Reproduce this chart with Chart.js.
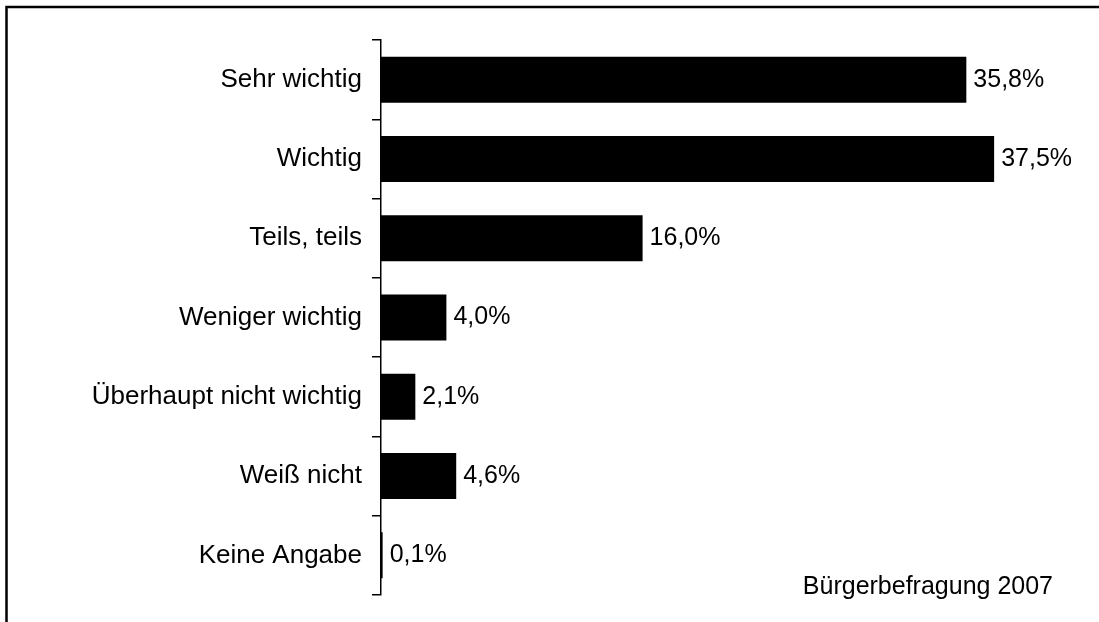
<!DOCTYPE html>
<html>
<head>
<meta charset="utf-8">
<script src="https://cdn.jsdelivr.net/npm/chart.js@4/dist/chart.umd.min.js"></script>
<style>
    html, body { margin: 0; padding: 0; background: #fff; }
    #wrap { width: 1099px; height: 622px; }
</style>
</head>
<body>
<div id="wrap"><canvas id="bar-chart" width="1099" height="622"></canvas></div>
<script>
var categories = ["Sehr wichtig", "Wichtig", "Teils, teils", "Weniger wichtig",
    "Überhaupt nicht wichtig", "Weiß nicht", "Keine Angabe"];
var shares = [35.8, 37.5, 16.0, 4.0, 2.1, 4.6, 0.1];
var sourceNote = "Bürgerbefragung 2007";

var fontFamily = "'Liberation Sans', Arial, sans-serif";

// frame around the whole picture (only left and top edges are visible)
var framePlugin = {
    id: "frame",
    beforeDraw: function(chart) {
        var ctx = chart.ctx;
        ctx.save();
        ctx.fillStyle = "#fff";
        ctx.fillRect(0, 0, chart.width, chart.height);
        ctx.strokeStyle = "#000";
        ctx.lineWidth = 2.5;
        ctx.beginPath();
        ctx.moveTo(6.5, chart.height + 5);
        ctx.lineTo(6.5, 7);
        ctx.lineTo(chart.width + 5, 7);
        ctx.stroke();
        ctx.restore();
    }
};

// value labels next to bars + source note
var labelPlugin = {
    id: "valueLabels",
    afterDatasetsDraw: function(chart) {
        var ctx = chart.ctx;
        var meta = chart.getDatasetMeta(0);
        ctx.save();
        ctx.font = "25px " + fontFamily;
        ctx.fillStyle = "#000";
        ctx.textAlign = "left";
        ctx.textBaseline = "middle";
        meta.data.forEach(function(bar, i) {
            var txt = shares[i].toFixed(1).replace(".", ",") + "%";
            ctx.fillText(txt, bar.x + 7, bar.y);
        });
        var area = chart.chartArea;
        ctx.textBaseline = "alphabetic";
        ctx.fillText(sourceNote, chart.scales.x.getPixelForValue(25.8), area.bottom - 1);
        ctx.restore();
    }
};

new Chart(document.getElementById("bar-chart"), {
    type: "bar",
    data: {
        labels: categories,
        datasets: [{
            data: shares,
            backgroundColor: "#000",
            borderWidth: 0,
            categoryPercentage: 1.0,
            barPercentage: 0.58
        }]
    },
    options: {
        indexAxis: "y",
        responsive: false,
        animation: false,
        layout: {
            padding: { top: 40, bottom: 27, left: 0, right: 64 }
        },
        plugins: {
            legend: { display: false },
            tooltip: { enabled: false }
        },
        scales: {
            x: {
                display: false,
                min: 0,
                max: 40
            },
            y: {
                afterFit: function(scale) { scale.width = 381; },
                border: { display: true, color: "#000", width: 1.5 },
                grid: {
                    offset: true,
                    drawOnChartArea: false,
                    drawTicks: true,
                    tickLength: 9,
                    color: "#000",
                    lineWidth: 1.5
                },
                ticks: {
                    color: "#000",
                    padding: 10,
                    font: { family: fontFamily, size: 26 }
                }
            }
        }
    },
    plugins: [framePlugin, labelPlugin]
});
</script>
</body>
</html>
